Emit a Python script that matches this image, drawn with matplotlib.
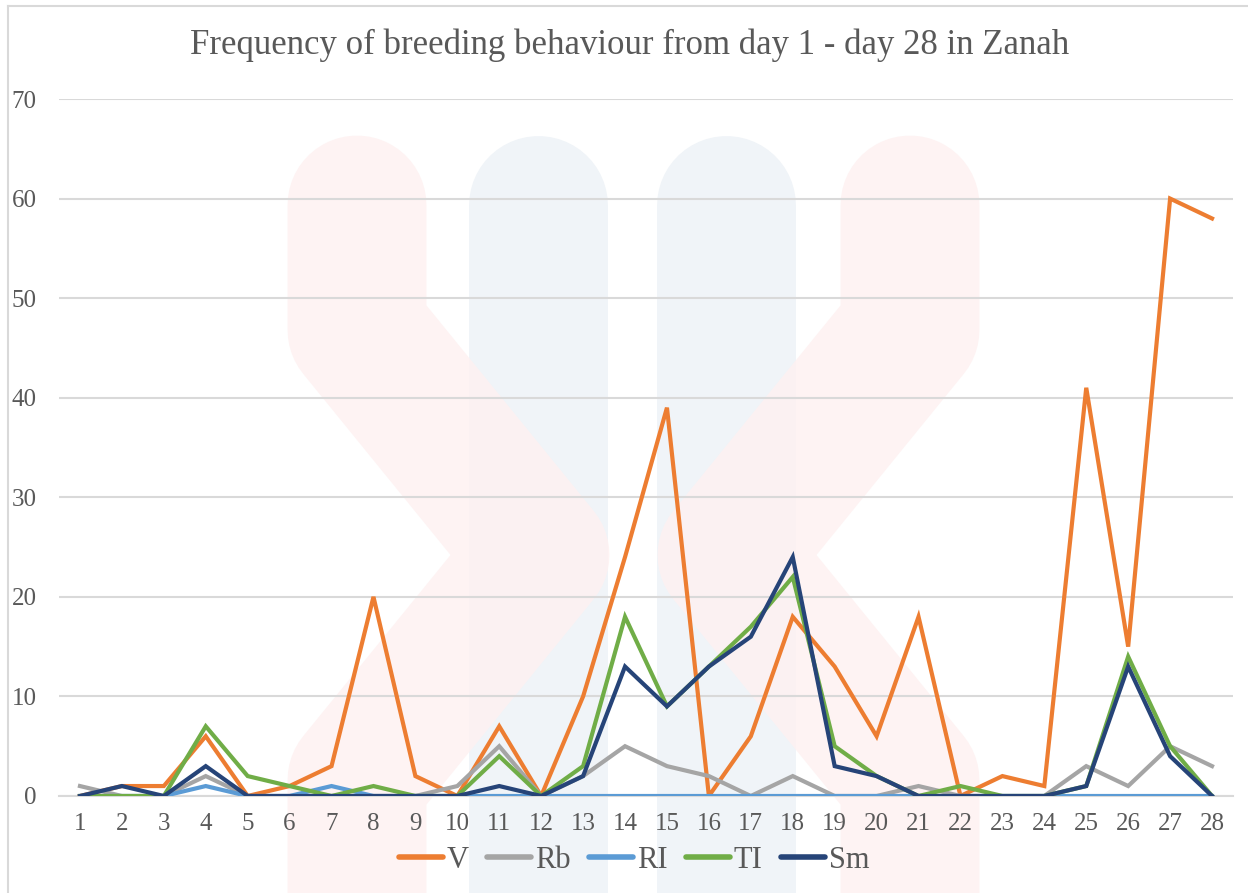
import matplotlib
matplotlib.use("Agg")
import matplotlib.pyplot as plt
from matplotlib.lines import Line2D

days = list(range(1, 29))
V  = [0, 1, 1, 6, 0, 1, 3, 20, 2, 0, 7, 0, 10, 24, 39, 0, 6, 18, 13, 6, 18, 0, 2, 1, 41, 15, 60, 58]
Rb = [1, 0, 0, 2, 0, 0, 0, 0, 0, 1, 5, 0, 2, 5, 3, 2, 0, 2, 0, 0, 1, 0, 0, 0, 3, 1, 5, 3]
RI = [0, 0, 0, 1, 0, 0, 1, 0, 0, 0, 0, 0, 0, 0, 0, 0, 0, 0, 0, 0, 0, 0, 0, 0, 0, 0, 0, 0]
TI = [0, 0, 0, 7, 2, 1, 0, 1, 0, 0, 4, 0, 3, 18, 9, 13, 17, 22, 5, 2, 0, 1, 0, 0, 1, 14, 5, 0]
Sm = [0, 1, 0, 3, 0, 0, 0, 0, 0, 0, 1, 0, 2, 13, 9, 13, 16, 24, 3, 2, 0, 0, 0, 0, 1, 13, 4, 0]

series_names = ["V", "Rb", "RI", "TI", "Sm"]
series_vals = [V, Rb, RI, TI, Sm]
colors = ["#ED7D31", "#A5A5A5", "#5B9BD5", "#70AD47", "#264478"]
title = "Frequency of breeding behaviour from day 1 - day 28 in Zanah"

W, H = 1248, 893
fig = plt.figure(figsize=(W / 100, H / 100), dpi=100)
fig.patch.set_facecolor("white")

def fx(x):
    return x / W

def fy(y):
    return 1 - y / H

# faint watermark (decorative background)
pink = "#FEF1F1"
blue = "#F0F4F8"
bw = 100  # band width in points (~140 px)
for xc in [538, 726]:
    fig.add_artist(Line2D([fx(xc), fx(xc)], [fy(205), fy(1000)], transform=fig.transFigure,
                          lw=bw, color=blue, solid_capstyle="round", zorder=-2))
for xs, ys in [([357, 357, 540, 357, 357], [205, 330, 555, 780, 1000]),
               ([910, 910, 727, 910, 910], [205, 330, 555, 780, 1000])]:
    fig.add_artist(Line2D([fx(v) for v in xs], [fy(v) for v in ys], transform=fig.transFigure,
                          lw=bw, color=pink, solid_capstyle="round", solid_joinstyle="round", zorder=-1,
                          alpha=0.85))

# chart border (top and left visible)
fig.add_artist(Line2D([fx(8), fx(8)], [fy(6), fy(900)], transform=fig.transFigure, color="#D9D9D9", lw=1.5))
fig.add_artist(Line2D([fx(8), fx(1260)], [fy(6), fy(6)], transform=fig.transFigure, color="#D9D9D9", lw=1.5))

ax = fig.add_axes([fx(59), fy(796), fx(1233) - fx(59), fy(99) - fy(796)])
ax.set_zorder(2)
ax.patch.set_alpha(0)
ax.set_xlim(0.5, 28.5)
ax.set_ylim(0, 70)
ax.set_yticks(range(0, 71, 10))
ax.set_xticks(days)
ax.set_xticklabels([str(d) for d in days])
ax.grid(axis="y", color="#D9D9D9", lw=1.5, zorder=0)
ax.set_axisbelow(True)
for s in ["top", "right", "left"]:
    ax.spines[s].set_visible(False)
ax.spines["bottom"].set_color("#D9D9D9")
ax.spines["bottom"].set_linewidth(1.5)
ax.tick_params(axis="both", length=0, colors="#595959", labelsize=18)
ax.tick_params(axis="y", pad=16)
ax.tick_params(axis="x", pad=12)
for lab in ax.get_xticklabels() + ax.get_yticklabels():
    lab.set_family("Liberation Serif")

for name, vals, c in zip(series_names, series_vals, colors):
    ax.plot(days, vals, color=c, lw=3, label=name, solid_joinstyle="miter", zorder=3)

fig.text(fx(630), fy(45), title, ha="center", va="center", fontsize=25,
         family="Liberation Serif", color="#595959", zorder=3)

leg = fig.legend(loc="center", bbox_to_anchor=(fx(634), fy(860)), ncol=5, frameon=False,
                 prop={"family": "Liberation Serif", "size": 22}, handlelength=1.45,
                 handletextpad=0.12, columnspacing=0.6, labelcolor="#595959")
leg.set_zorder(3)
for h in leg.get_lines():
    h.set_linewidth(4)
    h.set_solid_capstyle("round")

fig.savefig("out.png", dpi=100)
